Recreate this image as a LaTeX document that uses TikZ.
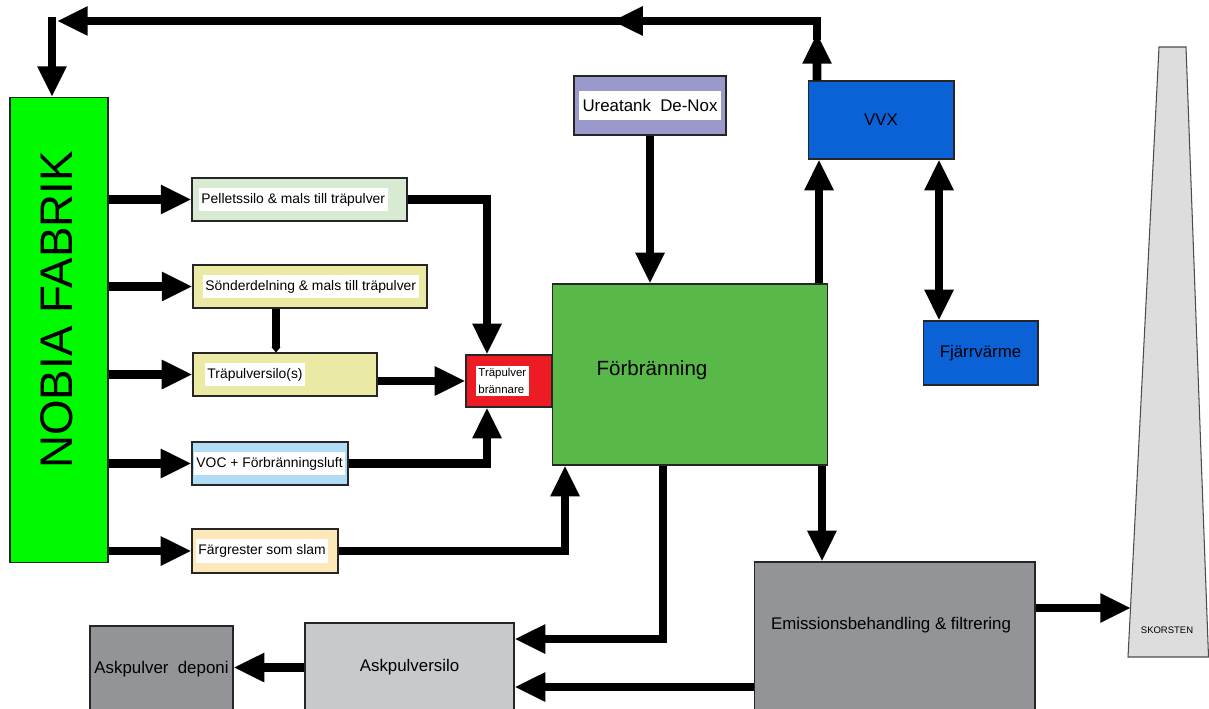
\documentclass[tikz,border=0pt]{standalone}
\usepackage{fontspec}
\setmainfont{Liberation Sans}
\usetikzlibrary{arrows.meta, positioning}
\definecolor{fabgreen}{RGB}{0, 250, 0}
\definecolor{pelletgreen}{RGB}{217, 234, 211}
\definecolor{siloyellow}{RGB}{234, 234, 164}
\definecolor{vocblue}{RGB}{176, 220, 245}
\definecolor{slamorange}{RGB}{253, 232, 186}
\definecolor{burnred}{RGB}{237, 28, 36}
\definecolor{firegreen}{RGB}{88, 185, 72}
\definecolor{urealilac}{RGB}{153, 153, 204}
\definecolor{heatblue}{RGB}{11, 98, 214}
\definecolor{filtergray}{RGB}{147, 148, 152}
\definecolor{ashgray}{RGB}{200, 201, 204}
\definecolor{stackgray}{RGB}{221, 221, 221}

\tikzset{
    box/.style={draw=black!85, line width=0.6pt, inner sep=0pt},
    lbl/.style={fill=white, inner sep=1.5pt, minimum height=0.47cm, font=\fontsize{7.9}{9}\selectfont},
    midtxt/.style={font=\fontsize{9.6}{11}\selectfont},
    pipe/.style={line width=4.9pt},
    flow/.style={pipe, -{Triangle[length=17.5pt, width=15.5pt]}}
}

\begin{document}
\begin{tikzpicture}[x=0.02cm, y=-0.02cm]
    \useasboundingbox (0,0) rectangle (1209,709);

    % boxes
    \node[box, fill=fabgreen, minimum width=1.96cm, minimum height=9.3cm] (nobia) at (59,330) {};
    \node[rotate=90, font=\fontsize{26}{30}\selectfont] (nobiatxt) at (57,310) {NOBIA FABRIK};

    \node[box, fill=pelletgreen, minimum width=4.3cm, minimum height=0.86cm] (pellets) at (299.5,199.5) {};
    \node[box, fill=siloyellow, minimum width=4.68cm, minimum height=0.86cm] (sonder) at (310,286.5) {};
    \node[box, fill=siloyellow, minimum width=3.68cm, minimum height=0.86cm] (trasilo) at (285,374.5) {};
    \node[box, fill=vocblue, minimum width=3.12cm, minimum height=0.86cm] (voc) at (270,463.5) {};
    \node[box, fill=slamorange, minimum width=2.92cm, minimum height=0.88cm] (farg) at (265,551) {};

    \node[lbl, anchor=west] (pelletstxt) at ([xshift=0.14cm]pellets.west) {Pelletssilo \& mals till träpulver};
    \node[lbl, anchor=west] (sondertxt) at ([xshift=0.2cm]sonder.west) {Sönderdelning \& mals till träpulver};
    \node[lbl, anchor=west] (trasilotxt) at ([xshift=0.24cm]trasilo.west) {Träpulversilo(s)};
    \node[lbl, anchor=west] (voctxt) at ([xshift=0.04cm]voc.west) {VOC + Förbränningsluft};
    \node[lbl, anchor=west] (fargtxt) at ([xshift=0.08cm]farg.west) {Färgrester som slam};

    \node[box, fill=burnred, minimum width=1.72cm, minimum height=1.04cm] (brannare) at (509,381) {};
    \node[lbl, anchor=west, align=left, minimum height=0pt, font=\fontsize{6.5}{9.5}\selectfont] (brannaretxt) at ([xshift=0.2cm]brannare.west) {Träpulver\\brännare};

    \node[box, fill=firegreen, minimum width=5.5cm, minimum height=3.62cm] (forb) at (690,374.5) {};
    \node[font=\fontsize{11.7}{14}\selectfont] (forbtxt) at (652,370) {Förbränning};

    \node[box, fill=urealilac, minimum width=3.04cm, minimum height=1.18cm] (urea) at (650,105.5) {};
    \node[lbl, midtxt, minimum height=0.58cm, inner xsep=2pt] (ureatxt) at (urea.center) {Ureatank~ De-Nox};

    \node[box, fill=heatblue, minimum width=2.92cm, minimum height=1.56cm, midtxt] (vvx) at (881,120) {VVX};
    \node[box, fill=heatblue, minimum width=2.3cm, minimum height=1.28cm, midtxt] (fjarr) at (980.5,353) {Fjärrvärme};

    \node[box, fill=filtergray, minimum width=5.62cm, minimum height=3.0cm] (emis) at (894.5,637) {};
    \node[midtxt] (emistxt) at (891,625) {Emissionsbehandling \& filtrering};
    \node[box, fill=ashgray, minimum width=4.18cm, minimum height=1.78cm, midtxt] (asilo) at (409.5,667.5) {Askpulversilo};
    \node[box, fill=filtergray, minimum width=2.86cm, minimum height=1.72cm, midtxt] (depo) at (161.5,669) {Askpulver~ deponi};

    % skorsten
    \draw[fill=stackgray, draw=black!70, line width=0.6pt] (1159,47) -- (1186,47) -- (1208.5,657) -- (1128,657) -- cycle;
    \node[font=\fontsize{5.4}{6}\selectfont] (stacktxt) at (1167,630) {SKORSTEN};
    \coordinate (stackin) at (1131,608);

    % connectors
    \foreach \b in {pellets, sonder, trasilo, voc, farg}
        \draw[flow] (nobia.east |- \b.west) -- (\b.west);

    \draw[flow] (pellets.east) -| ([xshift=-0.44cm]brannare.north);
    \draw[pipe, -{Triangle[length=3pt, width=4.9pt]}] ([xshift=-0.68cm]sonder.south) -- ([xshift=-0.68cm]sonder.south |- trasilo.north);
    \draw[flow] (trasilo.east |- brannare.west) -- (brannare.west);
    \draw[flow] (voc.east) -| ([xshift=-0.44cm]brannare.south);
    \draw[flow] (farg.east) -| ([xshift=-2.5cm]forb.south);

    \draw[flow] (urea.south) -- (urea.south |- forb.north);
    \draw[flow] ([xshift=-1.24cm]vvx.south |- forb.north) -- ([xshift=-1.24cm]vvx.south);
    \draw[pipe, {Triangle[length=17.5pt, width=15.5pt]}-{Triangle[length=17.5pt, width=15.5pt]}]
        ([xshift=-0.83cm]fjarr.north |- vvx.south) -- ([xshift=-0.83cm]fjarr.north);

    % loop back to the factory
    \coordinate (tr) at (817,21);
    \coordinate (tl) at (52,21);
    \draw[flow] ([xshift=-1.28cm]vvx.north) -- (817,33);
    \draw[pipe] (817,40) -- ([yshift=0.085cm]tr);
    \draw[flow] ([xshift=0.085cm]tr) -- (612,21);
    \draw[flow] (625,21) -- ([xshift=0.1cm]tl);
    \draw[flow] ([yshift=0.085cm]tl) -- (tl |- nobia.north);

    % ash and flue gas
    \draw[flow] ([xshift=-0.54cm]forb.south) |- ([yshift=0.57cm]asilo.east);
    \draw[flow] ([xshift=2.64cm]forb.south) -- ([xshift=2.64cm]forb.south |- emis.north);
    \draw[flow] (emis.west |- 0,687) -- (asilo.east |- 0,687);
    \draw[flow] (asilo.west) -- (asilo.west -| depo.east);
    \draw[flow] (emis.east |- stackin) -- (stackin);
\end{tikzpicture}
\end{document}
